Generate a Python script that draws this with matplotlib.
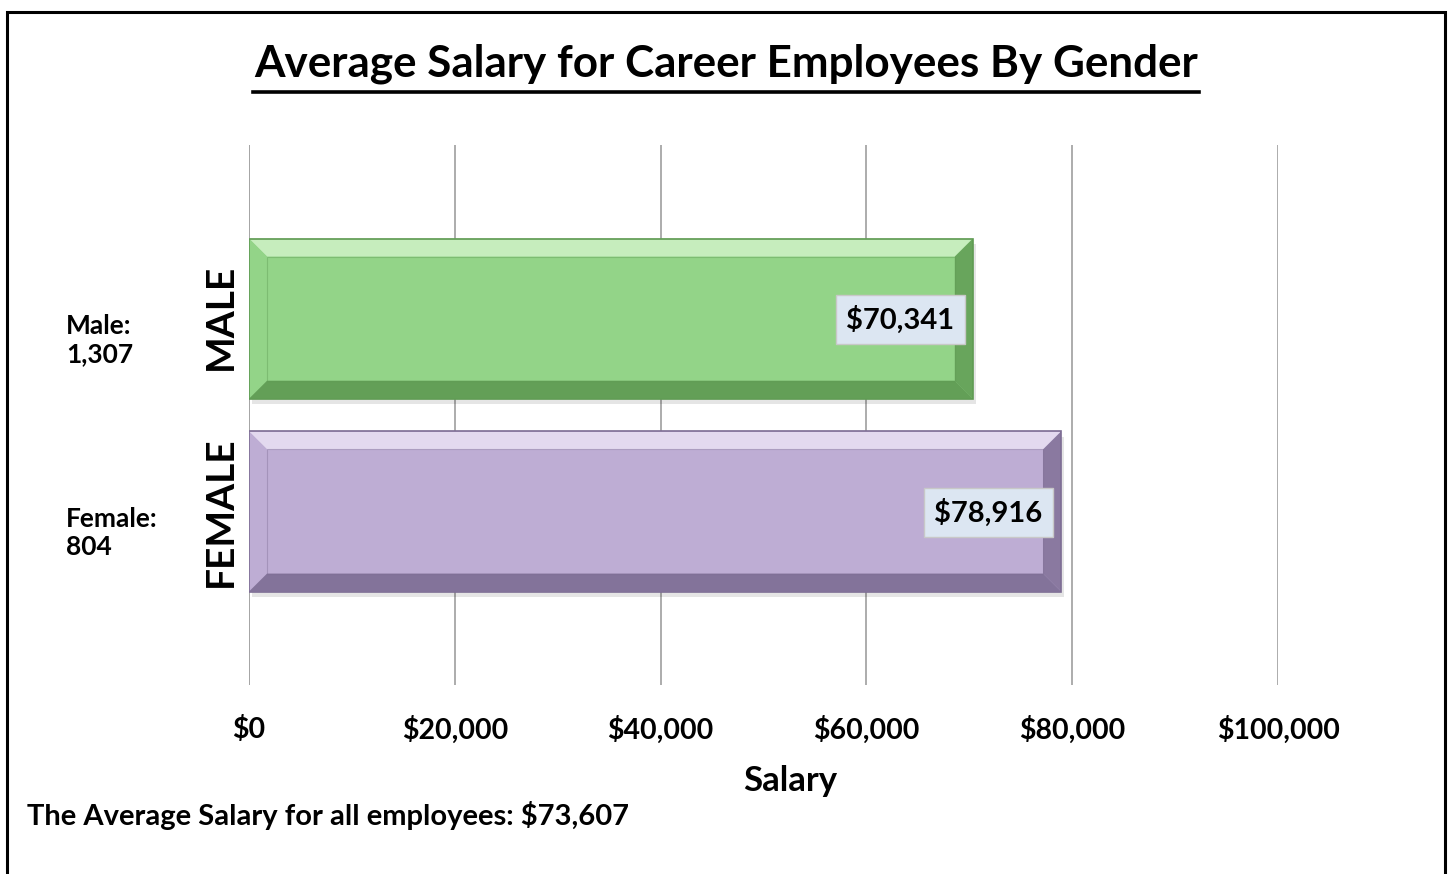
import numpy as np
import matplotlib.pyplot as plt
from matplotlib.patches import Polygon, Rectangle
from matplotlib.ticker import FuncFormatter

# data
genders = ["FEMALE", "MALE"]
salaries = [78916, 70341]
counts = ["Female:\n804", "Male:\n1,307"]
bar_colors = ["#BEADD4", "#93D488"]
light_colors = ["#E3D9EF", "#C6EDBD"]
dark_colors = ["#7D6D94", "#5E9A52"]
overall_avg = 73607
xticks = [0, 20000, 40000, 60000, 80000, 100000]

plt.rcParams['font.family'] = ['Lato', 'DejaVu Sans']
plt.rcParams['font.weight'] = 'bold'

fig = plt.figure(figsize=(14.52, 8.74), dpi=100)
ax = fig.add_axes([0.1715, 0.2162, 0.7087, 0.6178])

# frame around the whole chart
fig.patches.append(Rectangle((0.0045, -0.01), 0.9905, 0.9965, transform=fig.transFigure,
                             fill=False, ec="black", lw=2.2))

ypos = np.arange(len(genders))
bar_h = 0.83
bx, by = 1750, 0.093   # bevel size


def bevel_bar(y, val, base, light, dark):
    x0, x1 = 0, val
    y0, y1 = y - bar_h / 2, y + bar_h / 2
    # shadow
    ax.add_patch(Rectangle((x0 + 300, y0 - 0.03), val, bar_h, fc="#000000", alpha=0.10, zorder=2))
    ax.barh(y, val, height=bar_h, color=base, zorder=3)
    top = [(x0, y1), (x1, y1), (x1 - bx, y1 - by), (x0 + bx, y1 - by)]
    bottom = [(x0, y0), (x1, y0), (x1 - bx, y0 + by), (x0 + bx, y0 + by)]
    left = [(x0, y0), (x0, y1), (x0 + bx, y1 - by), (x0 + bx, y0 + by)]
    right = [(x1, y0), (x1, y1), (x1 - bx, y1 - by), (x1 - bx, y0 + by)]
    ax.add_patch(Polygon(top, closed=True, fc=light, ec="none", zorder=4))
    ax.add_patch(Polygon(left, closed=True, fc=base, ec="none", zorder=4))
    ax.add_patch(Polygon(right, closed=True, fc=dark, ec="none", alpha=0.8, zorder=4))
    ax.add_patch(Polygon(bottom, closed=True, fc=dark, ec="none", alpha=0.9, zorder=4))
    ax.add_patch(Rectangle((x0, y0), val, bar_h, fill=False, ec=dark, lw=1.2, zorder=5))
    ax.add_patch(Rectangle((x0 + bx, y0 + by), val - 2 * bx, bar_h - 2 * by,
                           fill=False, ec=dark, lw=0.8, alpha=0.4, zorder=5))


for i in range(len(genders)):
    bevel_bar(ypos[i], salaries[i], bar_colors[i], light_colors[i], dark_colors[i])
    ax.text(salaries[i] - 1800, ypos[i] - 0.005, f"${salaries[i]:,}", ha="right", va="center",
            fontsize=21, fontweight="bold", zorder=6,
            bbox=dict(boxstyle="square,pad=0.35", fc="#DCE6F2", ec="#C8C8C8", lw=1))
    ax.text(-0.028, ypos[i] + 0.01 * i, genders[i], transform=ax.get_yaxis_transform(),
            rotation=90, ha="center", va="center", fontsize=28, fontweight="bold")
    ax.text(-0.178, ypos[i] - 0.11, counts[i], transform=ax.get_yaxis_transform(),
            ha="left", va="center", fontsize=19, fontweight="bold", linespacing=1.2)

ax.set_xlim(0, 100000)
ax.set_ylim(-0.9, 1.9)
ax.set_xticks(xticks)
ax.xaxis.set_major_formatter(FuncFormatter(lambda v, p: f"${v:,.0f}"))
ax.tick_params(axis="x", length=0, pad=22, labelsize=20.5)
ax.set_yticks([])
for lab in ax.get_xticklabels():
    lab.set_fontweight("bold")
ax.grid(axis="x", color="#A6A6A6", lw=1.3, zorder=0)
ax.set_axisbelow(True)
for s in ax.spines.values():
    s.set_visible(False)
ax.axvline(0, color="#A6A6A6", lw=1.3, zorder=1)

ax.set_xlabel("Salary", fontsize=25, fontweight="bold")
ax.xaxis.set_label_coords(0.526, -0.149)

fig.text(0.5003, 0.927, "Average Salary for Career Employees By Gender", ha="center", va="center",
         fontsize=31.7, fontweight="bold")
fig.add_artist(plt.Line2D([0.1745, 0.826], [0.8945, 0.8945], transform=fig.transFigure,
                          color="black", lw=2.6))

fig.text(0.0186, 0.067, f"The Average Salary for all employees: ${overall_avg:,}", ha="left",
         va="center", fontsize=21, fontweight="bold")

fig.savefig("out.png", dpi=100)
